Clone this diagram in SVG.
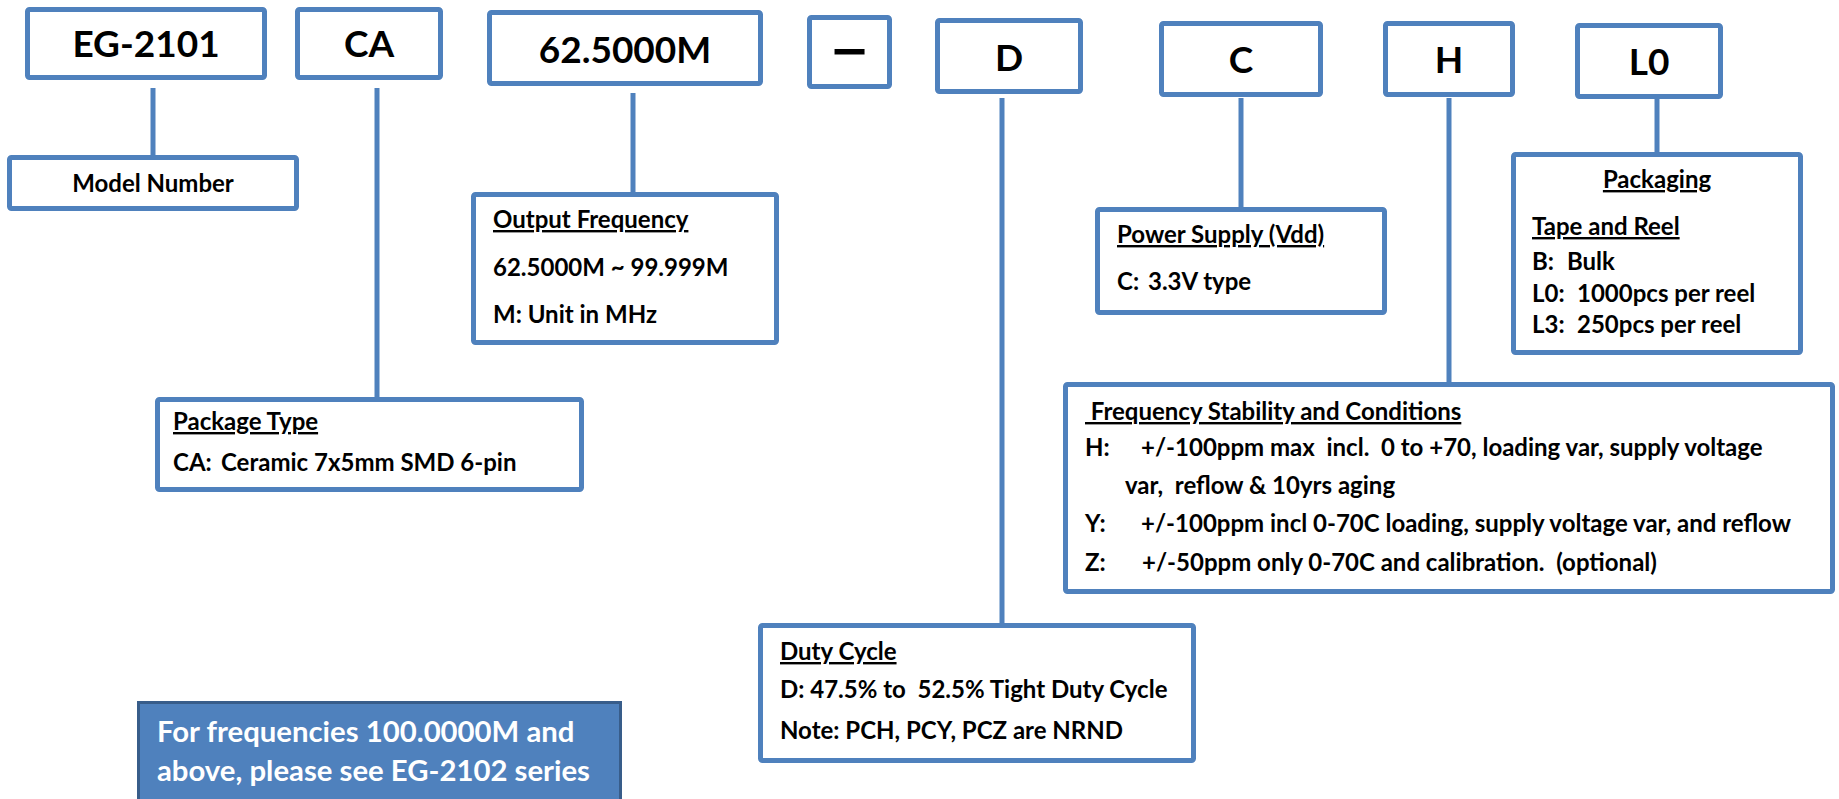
<svg xmlns="http://www.w3.org/2000/svg" width="1839" height="799" viewBox="0 0 1839 799">
<style>
.box{fill:#fff;stroke:#4F81BD;stroke-width:5}
.conn line{stroke:#4F81BD;stroke-width:5}
text{font-family:Lato,"Liberation Sans",sans-serif;font-weight:700;fill:#000}
.big{font-size:37px;text-anchor:middle}
.t{font-size:24px}
.u{text-decoration:underline}
.note{font-size:29.3px;fill:#fff}
</style>
<rect width="1839" height="799" fill="#fff"/>
<g id="connectors" class="conn">
<line x1="153" y1="88" x2="153" y2="157"/>
<line x1="377" y1="88" x2="377" y2="399"/>
<line x1="633" y1="93" x2="633" y2="194"/>
<line x1="1002" y1="98" x2="1002" y2="625"/>
<line x1="1241" y1="98" x2="1241" y2="209"/>
<line x1="1449" y1="98" x2="1449" y2="384"/>
<line x1="1657" y1="96" x2="1657" y2="154"/>
</g>
<g id="n-model"><rect class="box" x="27.5" y="9.5" width="237" height="68" rx="2"/><text class="big" x="146" y="57">EG-2101</text></g>
<g id="n-package"><rect class="box" x="297.5" y="9.5" width="143" height="68" rx="2"/><text class="big" x="369" y="57">CA</text></g>
<g id="n-freq"><rect class="box" x="489.5" y="12.5" width="271" height="71" rx="2"/><text class="big" x="625" y="63">62.5000M</text></g>
<g id="n-dash"><rect class="box" x="809.5" y="17.5" width="80" height="69" rx="2"/><text transform="translate(849.5,67) scale(1.4,1)" x="0" y="0" style="font-size:50px;text-anchor:middle;stroke:#000;stroke-width:1.2">–</text></g>
<g id="n-duty"><rect class="box" x="937.5" y="20.5" width="143" height="71" rx="2"/><text class="big" x="1009" y="71">D</text></g>
<g id="n-power"><rect class="box" x="1161.5" y="23.5" width="159" height="71" rx="2"/><text class="big" x="1241" y="73">C</text></g>
<g id="n-stab"><rect class="box" x="1385.5" y="23.5" width="127" height="71" rx="2"/><text class="big" x="1449" y="73">H</text></g>
<g id="n-pack"><rect class="box" x="1577.5" y="25.5" width="143" height="71" rx="2"/><text class="big" x="1649" y="75">L0</text></g>

<g id="d-model"><rect class="box" x="9.5" y="157.5" width="287" height="51" rx="2"/><text class="t" x="153" y="192" text-anchor="middle">Model Number</text></g>
<g id="d-freq"><rect class="box" x="473.5" y="194.5" width="303" height="148" rx="2"/>
<text class="t u" x="493" y="228">Output Frequency</text>
<text class="t" x="493" y="276">62.5000M ~ 99.999M</text>
<text class="t" x="493" y="323">M: Unit in MHz</text></g>
<g id="d-package"><rect class="box" x="157.5" y="399.5" width="424" height="90" rx="2"/>
<text class="t u" x="173" y="430">Package Type</text>
<text class="t" x="173" y="471">CA:<tspan x="221">Ceramic 7x5mm SMD 6-pin</tspan></text></g>
<g id="d-power"><rect class="box" x="1097.5" y="209.5" width="287" height="103" rx="2"/>
<text class="t u" x="1117" y="243">Power Supply (Vdd)</text>
<text class="t" x="1117" y="290">C:<tspan x="1148">3.3V type</tspan></text></g>
<g id="d-pack"><rect class="box" x="1513.5" y="154.5" width="287" height="198" rx="2"/>
<text class="t u" x="1657" y="188" text-anchor="middle">Packaging</text>
<text class="t u" x="1532" y="235">Tape and Reel</text>
<text class="t" x="1532" y="270">B:<tspan x="1567">Bulk</tspan></text>
<text class="t" x="1532" y="302">L0:<tspan x="1577">1000pcs per reel</tspan></text>
<text class="t" x="1532" y="333">L3:<tspan x="1577">250pcs per reel</tspan></text></g>
<g id="d-stab"><rect class="box" x="1065.5" y="384.5" width="767" height="207" rx="2"/>
<text class="t u" x="1085" y="420" xml:space="preserve"> Frequency Stability and Conditions</text>
<text class="t" x="1085" y="456">H:<tspan x="1141" xml:space="preserve">+/-100ppm max  incl.  0 to +70, loading var, supply voltage</tspan></text>
<text class="t" x="1125" y="494" xml:space="preserve">var,  reflow &amp; 10yrs aging</text>
<text class="t" x="1085" y="532">Y:<tspan x="1141">+/-100ppm incl 0-70C loading, supply voltage var, and reflow</tspan></text>
<text class="t" x="1085" y="571">Z:<tspan x="1142" xml:space="preserve">+/-50ppm only 0-70C and calibration.  (optional)</tspan></text></g>
<g id="d-duty"><rect class="box" x="760.5" y="625.5" width="433" height="135" rx="2"/>
<text class="t u" x="780" y="660">Duty Cycle</text>
<text class="t" x="780" y="698" xml:space="preserve">D: 47.5% to  52.5% Tight Duty Cycle</text>
<text class="t" x="780" y="739">Note: PCH, PCY, PCZ are NRND</text></g>
<g id="note"><rect x="138.5" y="702.5" width="482" height="130" fill="#4F81BD" stroke="#385D8A" stroke-width="3"/>
<text class="note" x="157" y="742">For frequencies 100.0000M and</text>
<text class="note" x="157" y="781">above, please see EG-2102 series</text></g>
</svg>
